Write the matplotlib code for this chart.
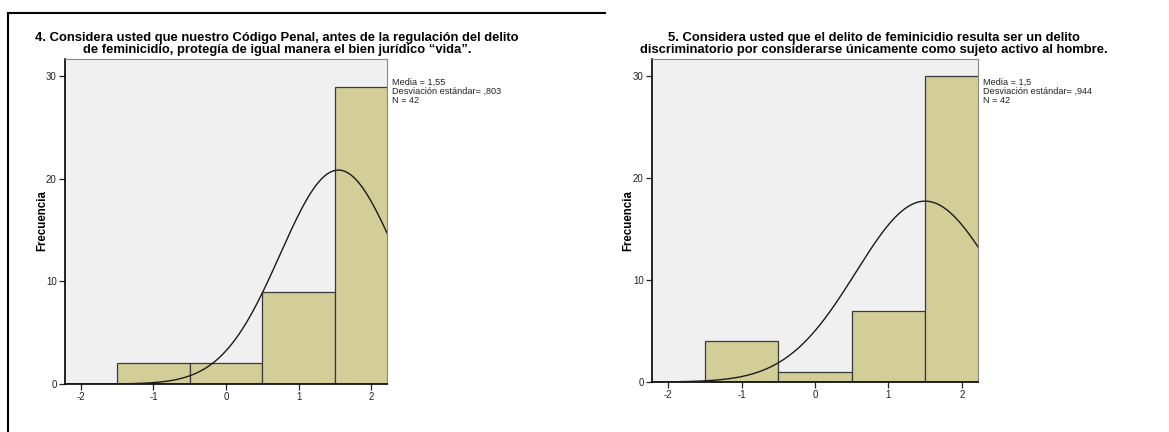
import numpy as np
import matplotlib
matplotlib.use("Agg")
import matplotlib.pyplot as plt
from matplotlib.lines import Line2D

plt.rcParams['font.family'] = ['Liberation Sans', 'DejaVu Sans']
plt.rcParams['axes.unicode_minus'] = False

# bin centres of the histograms
bin_centers = [-2, -1, 0, 1, 2]
counts_4 = [0, 2, 2, 9, 29]
counts_5 = [0, 4, 1, 7, 30]

mean_4, sd_4, n_4 = 1.55, 0.803, 42
mean_5, sd_5, n_5 = 1.5, 0.944, 42

title_4 = ("4. Considera usted que nuestro Código Penal, antes de la regulación del delito\n"
           "de feminicidio, protegía de igual manera el bien jurídico \u201cvida\u201d.")
title_5 = ("5. Considera usted que el delito de feminicidio resulta ser un delito\n"
           "discriminatorio por considerarse únicamente como sujeto activo al hombre.")
stats_4 = "Media = 1,55\nDesviación estándar= ,803\nN = 42"
stats_5 = "Media = 1,5\nDesviación estándar= ,944\nN = 42"

yticks = [0, 10, 20, 30]
xticks = [-2, -1, 0, 1, 2]

BAR = '#d3ce98'
BG = '#f0f0f0'


def draw_hist(ax, counts, mean, sd, n):
    ax.set_facecolor(BG)
    ax.bar(bin_centers, counts, width=1.0, color=BAR, edgecolor='#3a3a3a',
           linewidth=0.9, zorder=2)
    xs = np.linspace(-2.25, 2.25, 300)
    pdf = n * np.exp(-0.5 * ((xs - mean) / sd) ** 2) / (sd * np.sqrt(2 * np.pi))
    ax.plot(xs, pdf, color='#1a1a1a', lw=1.0, zorder=3)
    ax.set_xlim(-2.22, 2.22)
    ax.set_ylim(0, 31.7)
    ax.set_xticks(xticks)
    ax.set_yticks(yticks)
    ax.tick_params(direction='out', length=4, width=0.9, labelsize=7,
                   colors='#222222', pad=2)
    for side in ['left', 'bottom']:
        ax.spines[side].set_color('black')
        ax.spines[side].set_linewidth(1.2)
    for side in ['top', 'right']:
        ax.spines[side].set_color('#888888')
        ax.spines[side].set_linewidth(0.8)


fig = plt.figure(figsize=(11.69, 4.32), dpi=100)

ax1 = fig.add_axes([65 / 1169, 1 - 384 / 432, 322 / 1169, 325 / 432])
draw_hist(ax1, counts_4, mean_4, sd_4, n_4)
ax2 = fig.add_axes([652 / 1169, 1 - 382 / 432, 326 / 1169, 323 / 432])
draw_hist(ax2, counts_5, mean_5, sd_5, n_5)

fig.text(277 / 1169, 1 - 31.5 / 432, title_4, ha='center', va='top',
         fontsize=9.4, fontweight='bold', linespacing=1.05)
fig.text(874 / 1169, 1 - 31.5 / 432, title_5, ha='center', va='top',
         fontsize=9.4, fontweight='bold', linespacing=1.05)

fig.text(392 / 1169, 1 - 78 / 432, stats_4, ha='left', va='top',
         fontsize=6.6, linespacing=0.98, color='#222222')
fig.text(983 / 1169, 1 - 78 / 432, stats_5, ha='left', va='top',
         fontsize=6.6, linespacing=0.98, color='#222222')

fig.text(42 / 1169, 1 - 221 / 432, "Frecuencia", rotation=90, ha='center',
         va='center', fontsize=8.3, fontweight='bold')
fig.text(628 / 1169, 1 - 221 / 432, "Frecuencia", rotation=90, ha='center',
         va='center', fontsize=8.3, fontweight='bold')

# page border lines
fig.add_artist(Line2D([8 / 1169, 8 / 1169], [0, 1 - 13 / 432],
                      transform=fig.transFigure, color='black', lw=1.5))
fig.add_artist(Line2D([8 / 1169, 605 / 1169], [1 - 13 / 432, 1 - 13 / 432],
                      transform=fig.transFigure, color='black', lw=1.5))

fig.savefig("out.png", dpi=100)
